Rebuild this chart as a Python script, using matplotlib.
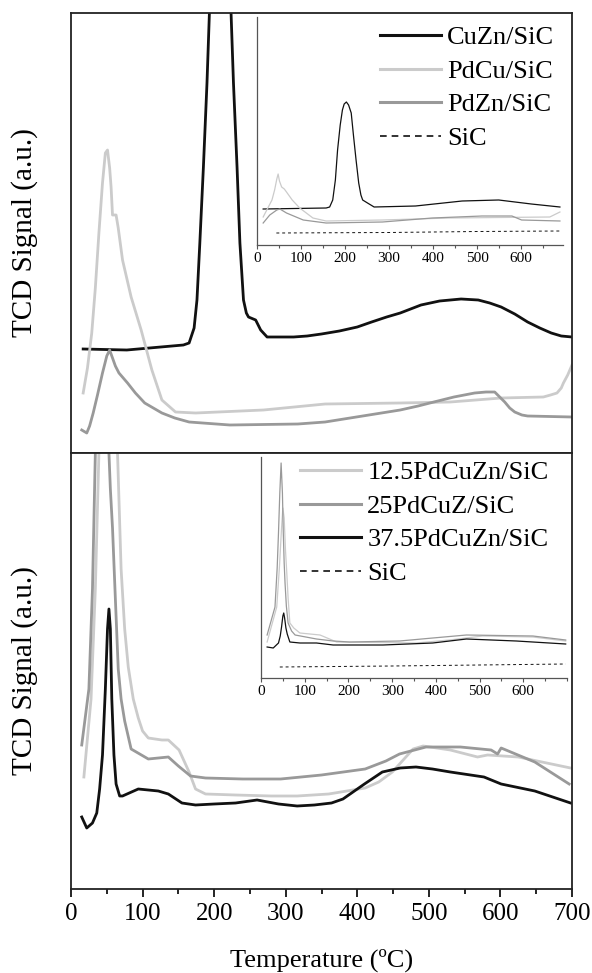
import matplotlib
matplotlib.use('Agg')
import matplotlib.pyplot as plt
from matplotlib.lines import Line2D
from matplotlib.ticker import MultipleLocator

plt.rcParams['font.family'] = ['Liberation Serif', 'DejaVu Serif']

BLACK = '#111111'
LIGHT = '#cbcbcb'
MID = '#999999'

# ---- top panel (single / binary catalysts), signal in a.u.
t_cuzn = [17, 78, 157, 165, 172, 176, 180, 185, 190, 194, 200, 204, 208, 212, 216, 223, 227,
          232, 236, 241, 245, 248, 258, 265, 274, 290, 311, 330, 350, 375, 400, 420, 441, 460,
          489, 515, 545, 569, 585, 601, 620, 638, 655, 671, 685, 700]
s_cuzn = [104, 103, 108, 110, 125, 153, 210, 286, 370, 453, 610, 690, 718, 690, 610, 453, 370,
          286, 210, 153, 140, 136, 133, 123, 116, 116, 116, 117, 119, 122, 126, 131, 136, 140,
          148, 152, 154, 153, 150, 146, 139, 131, 125, 120, 117, 116]

t_pdcu = [17, 23, 29, 34, 39, 44, 48, 51, 54, 56, 58, 63, 66, 72, 84, 98, 113, 127, 146, 174,
          269, 355, 460, 530, 601, 660, 670, 679, 685, 688, 694, 700]
s_pdcu = [60, 85, 120, 165, 220, 270, 300, 303, 285, 266, 238, 238, 225, 193, 156, 123, 83, 53,
          41, 40, 43, 49, 50, 51, 55, 56, 58, 60, 65, 70, 78, 88]

t_pdzn = [15, 22, 26, 31, 37, 44, 50, 54, 58, 62, 67, 79, 90, 103, 115, 127, 145, 165, 222, 317,
          355, 460, 485, 507, 535, 564, 580, 592, 599, 606, 613, 620, 630, 638, 700]
s_pdzn = [23, 20, 27, 40, 58, 80, 97, 103, 95, 87, 80, 70, 60, 50, 45, 40, 35, 31, 28, 29,
          31, 43, 47, 51, 56, 60, 61, 61, 56, 51, 45, 41, 38, 37, 36]

# top inset
ti_cuzn = [14, 157, 165, 172, 178, 183, 189, 194, 198, 203, 208, 214, 219, 225, 231, 236, 240,
           251, 266, 360, 466, 549, 623, 688]
si_cuzn = [36, 37, 38, 45, 65, 95, 120, 135, 141, 143, 140, 132, 110, 85, 62, 50, 45,
           42, 38, 39, 44, 45, 41, 38]
ti_pdcu = [14, 34, 40, 45, 48, 51, 56, 62, 67, 80, 97, 127, 157, 285, 436, 665, 688]
si_pdcu = [28, 45, 55, 66, 71, 64, 58, 56, 53, 45, 37, 27, 24, 25, 27, 28, 33]
ti_pdzn = [14, 29, 45, 52, 67, 105, 157, 285, 398, 511, 579, 601, 688]
si_pdzn = [22, 30, 35, 36, 32, 25, 22, 23, 27, 29, 29, 25, 24]
ti_sic = [44, 300, 500, 688]
si_sic = [12, 12.5, 13.5, 14]

# ---- bottom panel (ternary catalysts)
t_125 = [18, 28, 34, 39, 45, 52, 58, 65, 70, 75, 80, 87, 94, 100, 108, 127, 136, 151, 165, 174,
         188, 230, 280, 316, 360, 411, 430, 449, 478, 492, 530, 568, 582, 625, 658, 698]
s_125 = [112, 190, 300, 436, 800, 1000, 800, 436, 320, 260, 222, 190, 171, 158, 151, 149, 149,
         139, 117, 100, 95, 94, 93, 93, 95, 101, 107, 117, 140, 143, 139, 132, 134, 132, 127, 121]

t_25 = [15, 25, 30, 34, 40, 45, 50, 53, 55, 58, 62, 66, 70, 75, 84, 108, 136, 150, 167, 188,
        240, 293, 350, 411, 440, 459, 496, 544, 587, 596, 601, 648, 696]
s_25 = [144, 200, 300, 436, 800, 1100, 800, 436, 400, 361, 290, 220, 190, 168, 140, 130, 132,
        123, 113, 111, 110, 110, 114, 120, 128, 135, 142, 142, 139, 135, 141, 127, 105]

t_375 = [15, 22, 30, 36, 40, 44, 48, 51, 53, 55, 57, 60, 63, 68, 72, 94, 122, 136, 155, 174,
         200, 230, 260, 290, 316, 340, 364, 380, 392, 410, 435, 460, 482, 505, 530, 577, 601,
         648, 698]
s_375 = [72, 61, 66, 76, 100, 134, 200, 260, 280, 260, 190, 134, 105, 93, 93, 100, 98, 95, 86,
         84, 85, 86, 89, 85, 83, 84, 86, 90, 96, 105, 117, 121, 122, 120, 117, 112, 105, 98, 86]

# bottom inset
bi_125 = [14, 36, 42, 47, 50, 53, 56, 59, 62, 66, 75, 89, 135, 173, 355, 431, 507, 622, 697]
bs_125 = [36, 71, 110, 150, 170, 160, 128, 105, 80, 55, 50, 45, 43, 36, 35, 38, 42, 41, 37]
bi_25 = [14, 32, 37, 40, 43, 46, 49, 51, 53, 55, 58, 62, 70, 78, 127, 165, 203, 317, 393, 470,
         622, 697]
bs_25 = [43, 71, 110, 145, 185, 215, 185, 145, 115, 95, 72, 55, 47, 43, 39, 37, 36, 37, 40, 43,
         42, 38]
bi_375 = [14, 28, 40, 44, 47, 50, 52, 54, 57, 60, 66, 89, 127, 165, 279, 393, 470, 584, 697]
bs_375 = [31, 30, 35, 42, 51, 62, 65, 60, 50, 44, 36, 35, 35, 33, 33, 35, 39, 37, 34]
bi_sic = [43, 300, 500, 697]
bs_sic = [11, 12, 13, 14]

top_labels = ['CuZn/SiC', 'PdCu/SiC', 'PdZn/SiC', 'SiC']
bot_labels = ['12.5PdCuZn/SiC', '25PdCuZ/SiC', '37.5PdCuZn/SiC', 'SiC']

W, H = 592, 973
fig = plt.figure(figsize=(W / 100, H / 100), dpi=100)


def frac(left, right, top, bottom):
    return [left / W, 1 - bottom / H, (right - left) / W, (bottom - top) / H]


ax1 = fig.add_axes(frac(71, 572, 13, 453))
ax2 = fig.add_axes(frac(71, 572, 453, 889))

for ax in (ax1, ax2):
    ax.set_xlim(0, 700)
    ax.set_yticks([])
    for sp in ax.spines.values():
        sp.set_linewidth(1.3)
        sp.set_color('#222222')
    ax.set_ylabel('TCD Signal (a.u.)', fontsize=21, labelpad=24)

ax1.set_ylim(0, 440)
ax2.set_ylim(0, 436)
ax1.tick_params(bottom=False, labelbottom=False)

lw = 2.0
ax1.plot(t_cuzn, s_cuzn, color=BLACK, lw=lw)
ax1.plot(t_pdcu, s_pdcu, color=LIGHT, lw=lw)
ax1.plot(t_pdzn, s_pdzn, color=MID, lw=lw)

ax2.plot(t_125, s_125, color=LIGHT, lw=lw)
ax2.plot(t_25, s_25, color=MID, lw=lw)
ax2.plot(t_375, s_375, color=BLACK, lw=lw)

ax2.xaxis.set_major_locator(MultipleLocator(100))
ax2.xaxis.set_minor_locator(MultipleLocator(50))
ax2.tick_params(axis='x', which='major', direction='out', length=6, width=1.2,
                labelsize=18, pad=4)
ax2.tick_params(axis='x', which='minor', direction='out', length=3.5, width=1.2)
ax2.set_xlabel('Temperature (ºC)', fontsize=19, labelpad=17)

# insets
in1 = fig.add_axes(frac(257, 563, 17, 245))
in2 = fig.add_axes(frac(261, 567, 457, 678))
in1.set_xlim(0, 695)
in1.set_ylim(0, 228)
in2.set_xlim(0, 700)
in2.set_ylim(0, 221)

ilw = 0.9
in1.plot(ti_cuzn, si_cuzn, color=BLACK, lw=ilw)
in1.plot(ti_pdcu, si_pdcu, color=LIGHT, lw=ilw)
in1.plot(ti_pdzn, si_pdzn, color=MID, lw=ilw)
in1.plot(ti_sic, si_sic, color=BLACK, lw=0.7, ls=(0, (3, 3)))

in2.plot(bi_125, bs_125, color=LIGHT, lw=ilw)
in2.plot(bi_25, bs_25, color=MID, lw=ilw)
in2.plot(bi_375, bs_375, color=BLACK, lw=ilw)
in2.plot(bi_sic, bs_sic, color=BLACK, lw=0.7, ls=(0, (3, 3)))

for ax in (in1, in2):
    ax.patch.set_alpha(0)
    ax.spines['top'].set_visible(False)
    ax.spines['right'].set_visible(False)
    for s in ('left', 'bottom'):
        ax.spines[s].set_color('#555555')
        ax.spines[s].set_linewidth(0.9)
    ax.set_yticks([])
    ax.set_xticks(range(0, 700, 100))
    ax.xaxis.set_minor_locator(MultipleLocator(50))
    ax.tick_params(axis='x', which='major', direction='out', length=3, width=0.8,
                   color='#555555', labelsize=11, pad=2)
    ax.tick_params(axis='x', which='minor', direction='out', length=2, width=0.8,
                   color='#555555')


def handles(colors):
    out = []
    for c in colors:
        if c is None:
            out.append(Line2D([], [], color=BLACK, lw=1.2, ls=(0, (4, 3))))
        else:
            out.append(Line2D([], [], color=c, lw=2.2))
    return out


fig.legend(handles([BLACK, LIGHT, MID, None]), top_labels, loc='upper left',
           bbox_to_anchor=(380 / W, 1 - 26 / H), frameon=False, fontsize=19,
           handlelength=2.3, handletextpad=0.25, labelspacing=0.38,
           borderpad=0, borderaxespad=0)
fig.legend(handles([LIGHT, MID, BLACK, None]), bot_labels, loc='upper left',
           bbox_to_anchor=(300 / W, 1 - 461 / H), frameon=False, fontsize=19,
           handlelength=2.3, handletextpad=0.25, labelspacing=0.38,
           borderpad=0, borderaxespad=0)

fig.savefig('out.png', dpi=100)
